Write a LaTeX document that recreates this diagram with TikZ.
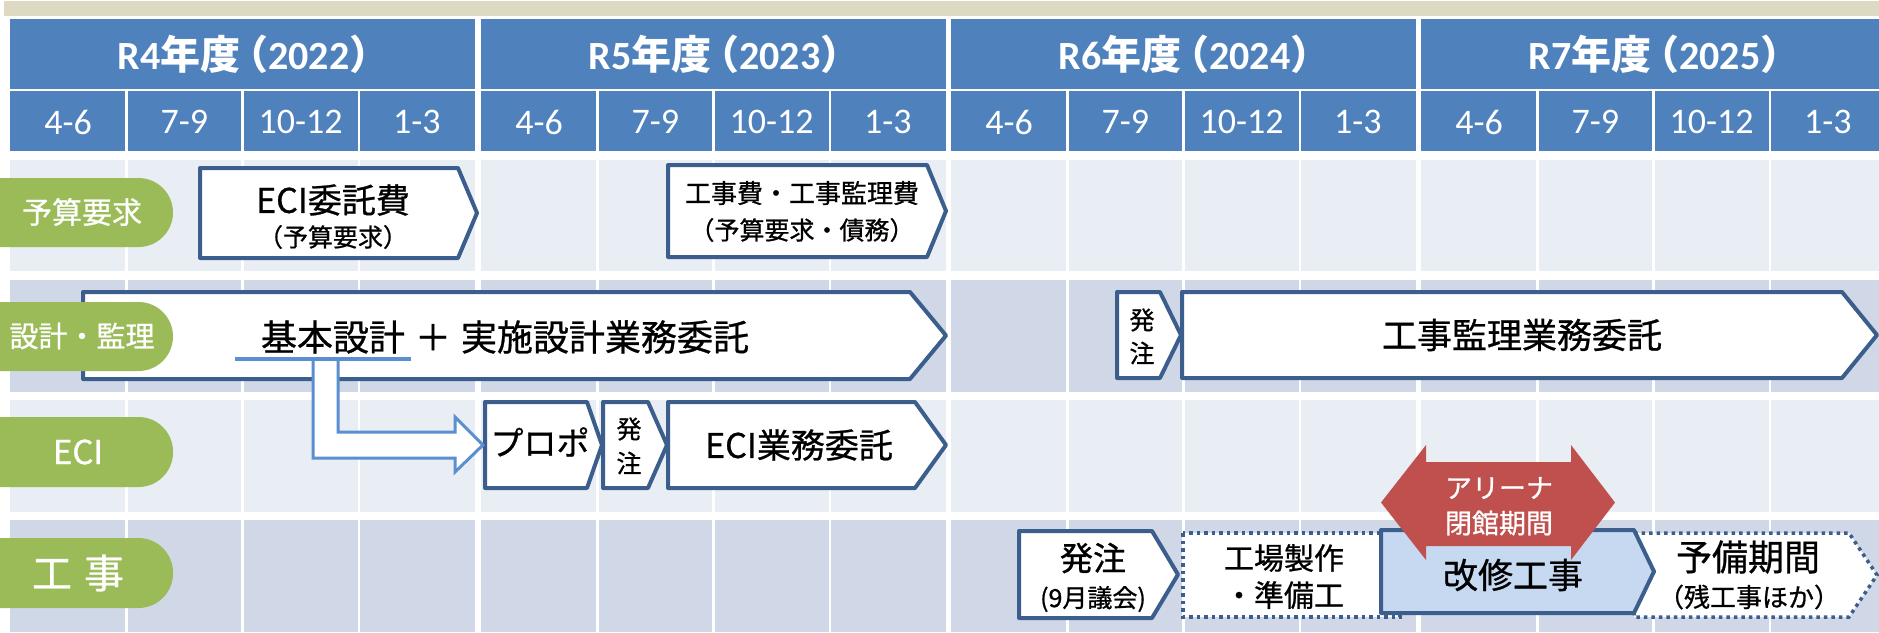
\documentclass[tikz,border=0pt]{standalone}
\usepackage{fontspec}
\setmainfont{Carlito}
\newfontfamily\jp[FakeBold=0.8]{Noto Sans CJK JP}
\newfontfamily\jpb{Noto Sans CJK JP Bold}
\newcommand\fsz[1]{\fontsize{#1}{#1}\selectfont}
\definecolor{beige}{HTML}{DDD9C3}
\definecolor{hdr}{HTML}{4F81BD}
\definecolor{rowA}{HTML}{E9EDF4}
\definecolor{rowB}{HTML}{D0D8E8}
\definecolor{grn}{HTML}{9BBB59}
\definecolor{bdr}{HTML}{3B5E8C}
\definecolor{lblue}{HTML}{5A8FD0}
\definecolor{redc}{HTML}{C0504D}
\definecolor{kaishu}{HTML}{C6D9F1}
\tikzset{
  pbox/.style={draw=bdr, line width=4pt, fill=white, line join=round},
  dbox/.style={draw=bdr, line width=3.5pt, fill=white, dash pattern=on 3.5pt off 4pt},
  pill/.style={fill=grn, rounded corners=34.5pt},
  plab/.style={inner sep=0pt, text=white},
  tx/.style={inner sep=0pt, text=black},
  wtx/.style={inner sep=0pt, text=white},
  qlab/.style={inner sep=0pt, text=white, font=\fsz{36}},
  ylab/.style={inner sep=0pt, text=white, font=\bfseries\fsz{40}},
}
\newcommand\pentbox[6]{\draw[#1] (#2,#3) -- (#4,#3) -- (#5,{(#3+#6)/2}) -- (#4,#6) -- (#2,#6) -- cycle;}
\newcommand\yrtext[2]{R#1{\jpb 年度\kern-12pt（}#2{\jpb ）\kern-22pt}}
\begin{document}
\begin{tikzpicture}[x=1pt,y=-1pt]
\useasboundingbox (0,0) rectangle (1879,632);
% top bar
\fill[beige] (4,1) rectangle (1879,16);
% grid
\foreach \s in {10,481,951,1421}{
  \fill[hdr] (\s,19) rectangle ++(465,70);
  \fill[hdr] (\s,91) rectangle ++(465,60);
  \fill[rowA] (\s,160) rectangle ++(465,111);
  \fill[rowB] (\s,280) rectangle ++(465,112);
  \fill[rowA] (\s,400) rectangle ++(465,112);
  \fill[rowB] (\s,520) rectangle ++(465,112);
  \foreach \i in {1,2,3} \draw[white, line width=2.5pt] ({\s+116.25*\i},91) -- ({\s+116.25*\i},632);
}
% headers
\node[ylab] (y4) at (242.5,54) {\yrtext{4}{2022}};
\node[ylab] (y5) at (713.5,54) {\yrtext{5}{2023}};
\node[ylab] (y6) at (1183.5,54) {\yrtext{6}{2024}};
\node[ylab] (y7) at (1653.5,54) {\yrtext{7}{2025}};
\foreach \s [count=\k] in {10,481,951,1421}
  \foreach \q [count=\j] in {4-6,7-9,10-12,1-3}
    \node[qlab] (q\k\j) at ({\s+116.25*(\j-0.5)},122) {\q};

% row 1: budget
\pentbox{pbox}{200}{168}{458}{477}{258}
\node[tx, font=\jp\fsz{34}] (eciF1) at (333,200) {ECI委託費};
\node[tx, font=\jp\fsz{25}] (eciF2) at (333,237) {（予算要求）};
\pentbox{pbox}{668}{165}{927}{946}{257}
\node[tx, font=\jp\fsz{26}] (kojiF1) at (802,193) {工事費・工事監理費};
\node[tx, font=\jp\fsz{25}] (kojiF2) at (802,230) {（予算要求・債務）};

% row 2: design
\pentbox{pbox}{83}{292}{910}{946}{379}
\node[tx, font=\jp\fsz{36}] (kihon) at (505,337) {基本設計\hspace{10pt}＋\hspace{10pt}実施設計業務委託};
\pentbox{pbox}{1117}{292}{1160}{1181}{378}
\node[tx, font=\jp\fsz{25}] (hA1) at (1142,320) {発};
\node[tx, font=\jp\fsz{25}] (hA2) at (1142,353) {注};
\pentbox{pbox}{1182}{292}{1842}{1877}{378}
\node[tx, font=\jp\fsz{35}] (kanri) at (1522,335) {工事監理業務委託};

% row 3: ECI
\coordinate (ulA) at (313,359);
\coordinate (ulB) at (338,359);
\fill[white] (ulA) -- (313,458) -- (455,458) -- (455,472) -- (483,445) -- (455,417) -- (455,432) -- (338,432) -- (ulB) -- cycle;
\pentbox{pbox}{485}{402}{587}{602}{488}
\node[tx, font=\jp\fsz{33}] (propo) at (540,442) {プロポ};
\draw[lblue, line width=3pt, line join=miter] (ulA) -- (313,458) -- (455,458) -- (455,472) -- (483,445) -- (455,417) -- (455,432) -- (338,432) -- (ulB);
\draw[lblue, line width=4pt] (235,359) -- (411,359);
\pentbox{pbox}{603}{402}{648}{667}{488}
\node[tx, font=\jp\fsz{25}] (hB1) at (629,429) {発};
\node[tx, font=\jp\fsz{25}] (hB2) at (629,463) {注};
\pentbox{pbox}{668}{402}{915}{946}{488}
\node[tx, font=\jp\fsz{34}] (eciG) at (799,445) {ECI業務委託};

% row 4: construction
\pentbox{pbox}{1019}{531}{1152}{1178}{618}
\node[tx, font=\jp\fsz{33}] (hC1) at (1093,558) {発注};
\node[tx, font=\jp\fsz{25}] (hC2) at (1093,599) {(9月議会)};
\draw[dbox] (1183,533) rectangle (1400,617);
\node[tx, font=\jp\fsz{30}] (kojo1) at (1284,558) {工場製作};
\node[tx, font=\jp\fsz{30}] (kojo2) at (1284,595) {・準備工};
\pentbox{dbox}{1634}{533}{1849}{1877}{617}
\node[tx, font=\jp\fsz{36}] (yobi1) at (1748,557) {予備期間};
\node[tx, font=\jp\fsz{26}] (yobi2) at (1749,597) {（残工事ほか）};
\pentbox{pbox, fill=kaishu}{1381}{530}{1634}{1654}{613}
\node[tx, font=\jp\fsz{35}] (kaishu) at (1513,575) {改修工事};
\fill[redc] (1381,502.5) -- (1426,445) -- (1426,462) -- (1571,462) -- (1571,445) -- (1615,502.5) -- (1571,560) -- (1571,546) -- (1426,546) -- (1426,560) -- cycle;
\node[wtx, font=\jp\fsz{27}] (arena1) at (1499,488) {アリーナ};
\node[wtx, font=\jp\fsz{27}] (arena2) at (1499,523) {閉館期間};

% green labels
\fill[pill] (-60,178) rectangle (173,247);
\fill[pill] (-60,302) rectangle (173,371);
\fill[pill] (-60,417) rectangle (173,487);
\fill[pill] (-60,538) rectangle (173,608);
\node[plab, font=\jp\fsz{30}] (L1) at (82,212) {予算要求};
\node[plab, font=\jp\fsz{29}] (L2) at (82,336) {設計・監理};
\node[plab, font=\jp\fsz{33}] (L3) at (78,452) {ECI};
\node[plab, font=\jp\fsz{40}] (L4) at (78,573) {工\hspace{12pt}事};
\end{tikzpicture}
\end{document}
